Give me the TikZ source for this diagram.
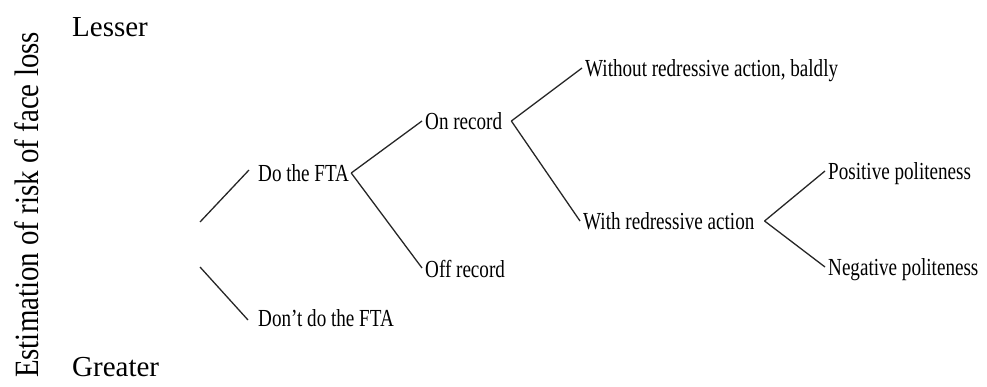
\documentclass[tikz,border=0pt]{standalone}
\usepackage{fontspec}
\setmainfont{Liberation Serif}
\newfontfamily\narrowfont[FakeStretch=0.78]{Liberation Serif}
\newfontfamily\axisfont[FakeStretch=0.85]{Liberation Serif}
\usetikzlibrary{positioning}

\begin{document}
\begin{tikzpicture}[x=1pt, y=-1pt,
		choice/.style={anchor=west, inner sep=0pt, text height=18pt, text depth=0pt,
			font=\narrowfont\fontsize{24.5}{24.5}\selectfont},
		pole/.style={anchor=base west, inner sep=0pt, font=\fontsize{29}{29}\selectfont},
		branch/.style={line width=1.3pt, draw=black!85}]
		\useasboundingbox (0,0) rectangle (987,387);
		
		% scale of face loss
		\node[rotate=90, anchor=base, inner sep=0pt, font=\axisfont\fontsize{34}{34}\selectfont] (axis) at (38,205) {Estimation of risk of face loss};
		\node[pole] (lesser) at (72,37) {Lesser};
		\node[pole] (greater) at (72,376) {Greater};
		
		% strategies
		\node[choice] (dofta) at (258,173) {Do the FTA};
		\node[choice] (dontfta) at (258,317) {Don’t do the FTA};
		\node[choice] (onrec) at (425,121) {On record};
		\node[choice] (offrec) at (425,268) {Off record};
		\node[choice] (bald) at (585,68) {Without redressive action, baldly};
		\node[choice] (redress) at (583,221) {With redressive action};
		\node[choice] (pospol) at (828,171) {Positive politeness};
		\node[choice] (negpol) at (828,267) {Negative politeness};
		
		\coordinate (top) at (200,222);
		\coordinate (bottom) at (200,267);
		\draw[branch] (top) -- ([shift={(-9,-3)}]dofta.west);
		\draw[branch] (bottom) -- ([shift={(-10,3)}]dontfta.west);
		
		\foreach \p/\g/\c in {dofta/2/onrec, dofta/2/offrec, onrec/9/bald, onrec/9/redress, redress/10/pospol, redress/10/negpol}
			\draw[branch] ([xshift=\g]\p.east) -- ([xshift=-3]\c.west);
	\end{tikzpicture}
\end{document}
